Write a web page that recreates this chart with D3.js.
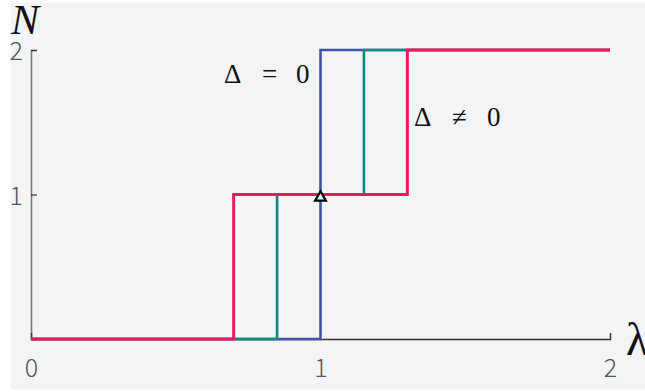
<!DOCTYPE html>
<html>
<head>
<meta charset="utf-8">
<script src="https://cdn.jsdelivr.net/npm/d3@7"></script>
<style>
  html, body { margin: 0; padding: 0; background: #ffffff; }
  svg { display: block; }
</style>
</head>
<body>
<svg id="chart" width="645" height="392"></svg>
<script>
// Counting function N(λ): number of levels below λ
const xTicks = [0, 1, 2];
const yTicks = [1, 2];

// step positions (λ) and the count reached at each step
const blueLambda = [0, 1, 2];
const blueN = [0, 2, 2];
const tealLambda = [0, 0.85, 1.15, 2];
const tealN = [0, 1, 2, 2];
const pinkLambda = [0, 0.7, 1.3, 2];
const pinkN = [0, 1, 2, 2];

const degeneratePoint = [1, 1];

const svg = d3.select("#chart");
const W = 645, H = 392;

svg.append("rect")
  .attr("x", 11).attr("y", 3)
  .attr("width", W - 11).attr("height", 386)
  .attr("fill", "#f3f4f6");

const x = d3.scaleLinear().domain([0, 2]).range([31, 610]);
const y = d3.scaleLinear().domain([0, 2]).range([339, 50]);

const tickFont = "'Noto Sans CJK JP', 'Lato', sans-serif";
const fmt = d3.format("d");

// y axis (ticks pointing inward)
const yAxis = svg.append("g")
  .attr("transform", `translate(${x(0)},0)`)
  .call(d3.axisLeft(y).tickValues(yTicks).tickFormat(fmt)
    .tickSizeInner(-6).tickSizeOuter(-6).tickPadding(8));
yAxis.select(".domain").attr("stroke", "#7a7a7a").attr("stroke-width", 1.6);
yAxis.selectAll(".tick line").attr("stroke", "#333").attr("stroke-width", 1.2);
yAxis.selectAll(".tick text")
  .attr("font-family", tickFont).attr("font-weight", 300)
  .attr("font-size", 25).attr("fill", "#555").attr("dy", "0.38em");

// x axis
const xAxis = svg.append("g")
  .attr("transform", `translate(0,${y(0)})`)
  .call(d3.axisBottom(x).tickValues(xTicks).tickFormat(fmt)
    .tickSizeInner(0).tickSizeOuter(-6).tickPadding(20));
xAxis.select(".domain").attr("stroke", "#333").attr("stroke-width", 1.4);
xAxis.selectAll(".tick text")
  .attr("font-family", tickFont).attr("font-weight", 300)
  .attr("font-size", 25).attr("fill", "#555");

// step curves
const step = d3.line().curve(d3.curveStepAfter);
const series = [
  { lam: blueLambda, n: blueN, color: "#3d55a9", w: 2.6 },
  { lam: tealLambda, n: tealN, color: "#14877e", w: 2.6 },
  { lam: pinkLambda, n: pinkN, color: "#ef1762", w: 3 }
];
series.forEach(s => {
  svg.append("path")
    .attr("d", step(s.lam.map((l, i) => [x(l), y(s.n[i])])))
    .attr("fill", "none")
    .attr("stroke", s.color)
    .attr("stroke-width", s.w);
});

// marker at the degenerate point
svg.append("path")
  .attr("d", d3.symbol(d3.symbolTriangle, 50)())
  .attr("transform", `translate(${x(degeneratePoint[0])},${y(degeneratePoint[1]) + 3})`)
  .attr("fill", "#f3f4f6")
  .attr("stroke", "#000")
  .attr("stroke-width", 2.2);

// axis titles
svg.append("text")
  .attr("x", 11).attr("y", 34)
  .attr("font-family", "'Liberation Serif', serif")
  .attr("font-style", "italic")
  .attr("font-size", 42)
  .attr("fill", "#111")
  .text("N");

svg.append("text")
  .attr("x", 626).attr("y", 355)
  .attr("font-family", "'Liberation Serif', serif")
  .attr("font-size", 46)
  .attr("fill", "#111")
  .text("λ");

// annotations
function formula(x0, yBase, parts, xs) {
  parts.forEach((p, i) => {
    svg.append("text")
      .attr("x", x0 + xs[i]).attr("y", yBase)
      .attr("font-family", "'Liberation Serif', serif")
      .attr("font-size", 27)
      .attr("fill", "#111")
      .text(p);
  });
}
formula(224, 83, ["Δ", "=", "0"], [0, 38, 72]);
formula(414, 126, ["Δ", "≠", "0"], [0, 38, 73]);
</script>
</body>
</html>
